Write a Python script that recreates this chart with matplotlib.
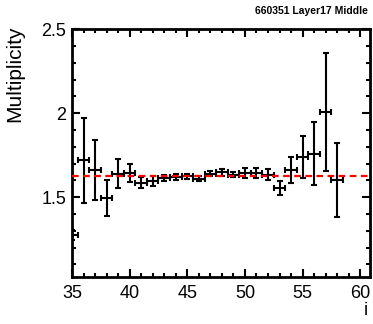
import matplotlib
matplotlib.use("Agg")
import matplotlib.pyplot as plt
from matplotlib.ticker import MultipleLocator

plt.rcParams['font.family'] = ['Liberation Sans', 'DejaVu Sans']

# data
bins = [35, 36, 37, 38, 39, 40, 41, 42, 43, 44, 45, 46, 47, 48, 49, 50, 51, 52, 53, 54, 55, 56, 57, 58]
values = [1.276, 1.72, 1.66, 1.495, 1.64, 1.644, 1.585, 1.598, 1.615, 1.621, 1.624, 1.609,
          1.640, 1.648, 1.634, 1.644, 1.644, 1.634, 1.555, 1.66, 1.74, 1.76, 2.006, 1.604]
errors = [0.03, 0.254, 0.178, 0.105, 0.087, 0.053, 0.033, 0.029, 0.02, 0.018, 0.016, 0.015,
          0.015, 0.02, 0.015, 0.03, 0.03, 0.033, 0.042, 0.077, 0.127, 0.19, 0.35, 0.22]
bin_half_width = 0.5
mean_value = 1.625
title = "660351 Layer17 Middle"

fig = plt.figure(figsize=(3.73, 3.24), dpi=100)
ax = fig.add_axes([0.193, 0.145, 0.799, 0.765])

ax.errorbar(bins, values, yerr=errors, xerr=bin_half_width, fmt='none',
            ecolor='black', elinewidth=1.5, capsize=2, capthick=1.5, zorder=3)
ax.axhline(mean_value, color='red', linestyle=(0, (3, 2)), linewidth=1.6, zorder=4)

ax.set_xlim(35, 60.85)
ax.set_ylim(1.025, 2.5)

ax.xaxis.set_major_locator(MultipleLocator(5))
ax.xaxis.set_minor_locator(MultipleLocator(1))
ax.yaxis.set_major_locator(MultipleLocator(0.5))
ax.yaxis.set_minor_locator(MultipleLocator(0.1))
ax.set_yticks([1.5, 2.0, 2.5])
ax.set_yticklabels(['1.5', '2', '2.5'])

ax.tick_params(which='both', direction='in', top=True, right=True, labelsize=13, width=1.5)
ax.tick_params(which='major', length=6)
ax.tick_params(which='minor', length=3)
ax.tick_params(axis='x', pad=6)
ax.tick_params(axis='y', pad=4)

for s in ax.spines.values():
    s.set_linewidth(2)

ax.set_ylabel('Multiplicity', fontsize=15)
ax.yaxis.set_label_coords(-0.16, 0.82)
ax.set_xlabel('i', fontsize=13)
ax.xaxis.set_label_coords(0.985, -0.1)

fig.text(0.985, 0.965, title, fontsize=7.5, fontweight='bold', ha='right', va='center')

fig.savefig('out.png', dpi=100)
